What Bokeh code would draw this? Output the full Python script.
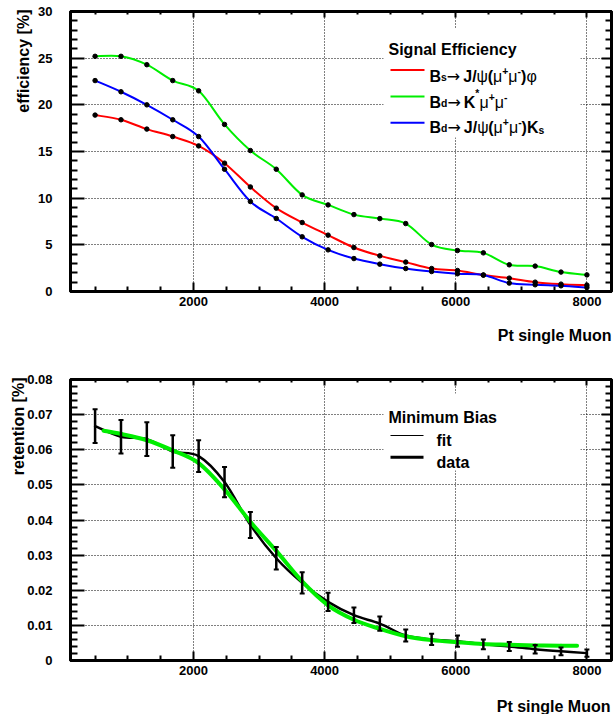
import numpy as np
from bokeh.plotting import figure
from bokeh.models import FixedTicker, Label, BoxAnnotation, LinearAxis, Range1d, Title
from bokeh.layouts import column
from bokeh.embed import file_html
from bokeh.resources import INLINE

# ---------------- data ----------------
pt = [500, 895, 1289, 1684, 2079, 2474, 2868, 3263, 3658, 4053,
      4447, 4842, 5237, 5632, 6026, 6421, 6816, 7211, 7605, 8000]
eff_bs_jpsi_phi = [18.9, 18.4, 17.4, 16.6, 15.6, 13.75, 11.2, 8.93, 7.39, 6.04,
                   4.71, 3.82, 3.15, 2.46, 2.25, 1.76, 1.43, 1.0, 0.79, 0.68]
eff_bd_kstar_mumu = [25.2, 25.2, 24.3, 22.6, 21.5, 17.9, 15.1, 13.1, 10.35, 9.28,
                     8.24, 7.81, 7.28, 5.03, 4.39, 4.14, 2.86, 2.72, 2.08, 1.78]
eff_bd_jpsi_ks = [22.6, 21.4, 20.0, 18.4, 16.6, 13.1, 9.64, 7.82, 5.86, 4.46,
                  3.53, 2.93, 2.46, 2.14, 1.9, 1.76, 0.9, 0.72, 0.61, 0.43]

ret_data = [0.0667, 0.0637, 0.0630, 0.0595, 0.0582, 0.0508, 0.0386, 0.0291, 0.0221, 0.0167,
            0.0129, 0.0105, 0.0071, 0.0060, 0.0055, 0.0046, 0.0040, 0.0032, 0.0026, 0.0021]
ret_err = [0.0048, 0.0048, 0.0048, 0.0046, 0.0045, 0.0043, 0.0037, 0.0032, 0.0030, 0.0026,
           0.0022, 0.0020, 0.0017, 0.0016, 0.0016, 0.0014, 0.0013, 0.0012, 0.0011, 0.0010]
fit_pt = [630, 895, 1289, 1684, 2079, 2474, 2868, 3263, 3658, 4053,
          4447, 4842, 5237, 5632, 6026, 6421, 6816, 7211, 7605, 7850]
ret_fit = [0.0654, 0.0645, 0.0627, 0.0598, 0.0562, 0.0487, 0.0395, 0.0312, 0.0225, 0.0157,
           0.0116, 0.0090, 0.0069, 0.0058, 0.0052, 0.0047, 0.0045, 0.0043, 0.0042, 0.0042]

x_major = [2000, 4000, 6000, 8000]
x_minor = [500, 1000, 1500, 2500, 3000, 3500, 4500, 5000, 5500, 6500, 7000, 7500]
eff_major = [0, 5, 10, 15, 20, 25, 30]
eff_minor = [v for v in range(1, 30) if v % 5]
ret_major = [0, 0.01, 0.02, 0.03, 0.04, 0.05, 0.06, 0.07, 0.08]
ret_minor = [round(0.002 * k, 3) for k in range(1, 40) if k % 5]
ret_labels = {0: "0", 0.01: "0.01", 0.02: "0.02", 0.03: "0.03", 0.04: "0.04",
              0.05: "0.05", 0.06: "0.06", 0.07: "0.07", 0.08: "0.08"}

x_title = "Pt single Muon"
eff_title = "efficiency [%]"
ret_title = "retention [%]"

FONT = "Liberation Sans"
RED, GREEN, BLUE = "#ff0000", "#00ee00", "#0000ff"


def make_fig(h, top, bottom, ymax, ymaj, ymin):
    p = figure(width=613, height=h, x_range=Range1d(125, 8375), y_range=Range1d(0, ymax),
               output_backend="svg", toolbar_location=None,
               min_border_left=70, min_border_right=2,
               min_border_top=top, min_border_bottom=bottom)
    p.add_layout(LinearAxis(), "above")
    p.add_layout(LinearAxis(), "right")
    p.outline_line_color = "black"
    p.outline_line_width = 3
    for ax in p.xaxis:
        ax.ticker = FixedTicker(ticks=x_major, minor_ticks=x_minor)
    for ax in p.yaxis:
        ax.ticker = FixedTicker(ticks=ymaj, minor_ticks=ymin)
    for ax in list(p.xaxis) + list(p.yaxis):
        ax.axis_line_width = 3
        ax.major_tick_out = 0
        ax.minor_tick_out = 0
        ax.major_tick_line_width = 2
        ax.minor_tick_line_width = 2
        ax.major_label_text_font = FONT
        ax.major_label_text_font_style = "bold"
        ax.major_label_text_font_size = "13px"
        ax.major_label_text_color = "black"
    p.below[0].major_tick_in = 9
    p.below[0].minor_tick_in = 5
    p.below[0].major_label_standoff = 5
    p.left[0].major_tick_in = 14
    p.left[0].minor_tick_in = 7
    p.left[0].major_label_standoff = 18
    p.above[0].major_tick_in = 6
    p.above[0].minor_tick_in = 3
    p.right[0].major_tick_in = 10
    p.right[0].minor_tick_in = 6
    for ax in (p.above[0], p.right[0]):
        ax.major_label_text_font_size = "0px"
        ax.major_label_text_color = None
        ax.major_label_standoff = 0
    for g in (p.xgrid, p.ygrid):
        g.grid_line_color = "black"
        g.grid_line_dash = "1 2"
        g.grid_line_width = 1
    return p


def title(p, text, side, standoff, offset=0):
    p.add_layout(Title(text=text, align="right", text_font=FONT, text_font_size="16px",
                       text_font_style="bold", text_color="black", standoff=standoff,
                       offset=offset), side)


def smooth(p, xs, ys, color, width):
    xs = np.asarray(xs, float)
    ys = np.asarray(ys, float)
    n = len(xs)
    qx = np.concatenate([[xs[0]], xs, [xs[-1]]])
    qy = np.concatenate([[ys[0]], ys, [ys[-1]]])
    p.bezier(x0=xs[:-1], y0=ys[:-1], x1=xs[1:], y1=ys[1:],
             cx0=qx[1:n] + (qx[2:n + 1] - qx[0:n - 1]) / 6,
             cy0=qy[1:n] + (qy[2:n + 1] - qy[0:n - 1]) / 6,
             cx1=qx[2:n + 1] - (qx[3:n + 2] - qx[1:n]) / 6,
             cy1=qy[2:n + 1] - (qy[3:n + 2] - qy[1:n]) / 6,
             line_color=color, line_width=width, line_cap="round")


def lab(p, x, y, text, size=16, style="bold", font=FONT, align="left",
        baseline="alphabetic", angle=0):
    p.add_layout(Label(x=x, y=y, x_units="screen", y_units="screen", text=text,
                       text_font=font, text_font_size=f"{size}px", text_font_style=style,
                       text_align=align, text_baseline=baseline, angle=angle,
                       text_color="black"))


W_BOLD = {"B": .722, "s": .556, "d": .611, "J": .556, "/": .278, "(": .333, ")": .333,
          "K": .722, "+": .584, "-": .333, "*": .389}
W_REG = {"ψ": .69, "μ": .58, "φ": .73}


def rich(p, x, y, runs, size=16):
    for text, kind in runs:
        if kind == "gap":
            x += text
            continue
        if kind == "arrow":
            lab(p, x, y, text, size=size, style="normal", font="DejaVu Sans")
            x += 0.838 * size
        elif kind == "sym":
            lab(p, x, y, text, size=size, style="normal")
            x += sum(W_REG[c] for c in text) * size
        elif kind == "b":
            lab(p, x, y, text, size=size)
            x += sum(W_BOLD[c] for c in text) * size
        else:
            s = size * 0.65
            dy = {"sub": -1.5, "subK": -3.5, "sup": 5.5, "star": 9}[kind]
            lab(p, x, y + dy, text, size=s)
            x += sum(W_BOLD[c] for c in text) * s


def box(p, l, r, b, t, color):
    p.add_layout(BoxAnnotation(left=l, right=r, bottom=b, top=t,
                               left_units="screen", right_units="screen",
                               bottom_units="screen", top_units="screen",
                               fill_color=color, fill_alpha=1.0, line_color=None))


FL = 70.0
FB1 = 291.0
FB2 = 660.0
sx = lambda xr: xr - FL
s1 = lambda yr: FB1 - yr
s2 = lambda yr: FB2 - yr

# ---------------- top figure ----------------
p1 = make_fig(368, 11, 77, 30, eff_major, eff_minor)
smooth(p1, pt, eff_bs_jpsi_phi, RED, 2)
smooth(p1, pt, eff_bd_kstar_mumu, GREEN, 2)
smooth(p1, pt, eff_bd_jpsi_ks, BLUE, 2)
for ys in (eff_bs_jpsi_phi, eff_bd_kstar_mumu, eff_bd_jpsi_ks):
    p1.scatter(pt, ys, size=4.5, color="black")

box(p1, sx(383), sx(580), s1(137), s1(28), "white")
lab(p1, sx(388), s1(48.5), "Signal Efficiency")
for yl, col in ((69.5, RED), (96.0, GREEN), (122.3, BLUE)):
    box(p1, sx(390), sx(424), s1(yl + 1), s1(yl - 1), col)
rich(p1, sx(429), s1(75.5), [("B", "b"), ("s", "sub"), ("→", "arrow"), (3, "gap"),
                             ("J/", "b"), ("ψ", "sym"), ("(", "b"), ("μ", "sym"), ("+", "sup"),
                             ("μ", "sym"), ("-", "sup"), (")", "b"), ("φ", "sym")])
rich(p1, sx(429), s1(101.7), [("B", "b"), ("d", "sub"), ("→", "arrow"), (3, "gap"),
                              ("K", "b"), ("*", "star"), ("μ", "sym"), ("+", "sup"),
                              ("μ", "sym"), ("-", "sup")])
rich(p1, sx(429), s1(126.7), [("B", "b"), ("d", "sub"), ("→", "arrow"), (3, "gap"),
                              ("J/", "b"), ("ψ", "sym"), ("(", "b"), ("μ", "sym"), ("+", "sup"),
                              ("μ", "sym"), ("-", "sup"), (")", "b"), ("K", "b"), ("s", "subK")])
title(p1, x_title, "below", 32)
title(p1, eff_title, "left", 8, -2)

# ---------------- bottom figure ----------------
p2 = make_fig(322, 11, 30, 0.08, ret_major, ret_minor)
p2.left[0].major_label_overrides = ret_labels
smooth(p2, pt, ret_data, "black", 2.5)
smooth(p2, fit_pt, ret_fit, GREEN, 4)
lo = [v - e for v, e in zip(ret_data, ret_err)]
hi = [v + e for v, e in zip(ret_data, ret_err)]
p2.segment(x0=pt, y0=lo, x1=pt, y1=hi, line_color="black", line_width=2.5)
p2.scatter(pt, lo, marker="dash", size=5, line_color="black", line_width=2)
p2.scatter(pt, hi, marker="dash", size=5, line_color="black", line_width=2)

box(p2, sx(383), sx(580), s2(470), s2(393), "white")
lab(p2, sx(388), s2(416.7), "Minimum Bias")
box(p2, sx(390), sx(423), s2(435.5), s2(434.5), "black")
box(p2, sx(390), sx(423), s2(458.2), s2(455.2), "black")
lab(p2, sx(436), s2(440), "fit")
lab(p2, sx(436), s2(461.7), "data")
title(p2, ret_title, "left", -5, -2)

# strip below the lower chart holding its x-axis title
p3 = figure(width=613, height=24, x_range=Range1d(0, 1), y_range=Range1d(0, 1),
            output_backend="svg", toolbar_location=None,
            min_border=0, min_border_left=0, min_border_right=0,
            min_border_top=0, min_border_bottom=0,
            x_axis_location=None, y_axis_location=None, outline_line_color=None)
p3.grid.visible = False
p3.add_layout(Label(x=1, y=1, x_units="data", y_units="data", x_offset=-1, y_offset=-7,
                    text=x_title, text_font=FONT, text_font_size="16px",
                    text_font_style="bold", text_align="right", text_baseline="top",
                    text_color="black"))

layout = column(p1, p2, p3)
open("out.html", "w", encoding="utf-8").write(file_html(layout, INLINE))
